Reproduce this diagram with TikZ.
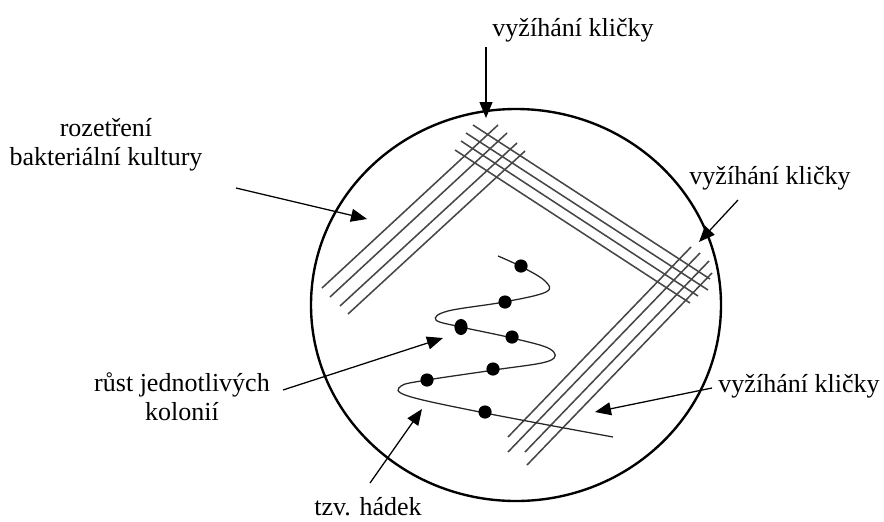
\documentclass[tikz,border=0pt]{standalone}
\usepackage{fontspec}
\setmainfont{Liberation Serif}
\usetikzlibrary{arrows.meta}

\begin{document}
\begin{tikzpicture}[x=0.5mm,y=-0.5mm,
  every node/.style={font=\fontsize{37}{41}\selectfont, align=center, inner sep=0pt},
  pointer/.style={line width=1.8pt, -{Triangle[length=8mm,width=6.5mm]}},
  hatch/.style={line width=2.2pt, draw=black!72},
  streak/.style={line width=1.8pt, draw=black!85}]
\useasboundingbox (0,0) rectangle (884,521);

% the dish
\draw[line width=3.4pt] (516,305) ellipse [x radius=102.5mm, y radius=98mm];

% first spread, upper left
\draw[hatch] (322,288) -- (498,125);
\draw[hatch] (330,297) -- (507,133);
\draw[hatch] (340,306) -- (517,143);
\draw[hatch] (348,314) -- (525,151);

% second spread, upper right
\draw[hatch] (473,125) -- (710,279);
\draw[hatch] (466,133) -- (708,290);
\draw[hatch] (461,141) -- (698,296);
\draw[hatch] (455,150) -- (690,303);

% third spread, lower right
\draw[hatch] (508,437) -- (691,247);
\draw[hatch] (508,452) -- (700,253);
\draw[hatch] (525,452) -- (709,261);
\draw[hatch] (527,465) -- (712,273);

% the streak
\draw[streak] plot[smooth, tension=0.6] coordinates {(498,256) (522,267) (545,281) (546,292) (504,302) (448,311) (436,320) (461,327) (512,338) (550,349) (549,361) (494,370) (427,380) (401,386) (408,396) (485,413) (613,437)};

% colonies
\fill (521,266) circle [radius=3.3mm];
\fill (505,302) circle [radius=3.3mm];
\fill (461,327) ellipse [x radius=3.3mm, y radius=4mm];
\fill (512,337) circle [radius=3.3mm];
\fill (493,369) circle [radius=3.3mm];
\fill (427,380) circle [radius=3.3mm];
\fill (485,412) circle [radius=3.3mm];

% labels
\node (lbltop) at (573,30) {vyžíhání kličky};
\node (lblspread) at (106,145) {rozetření\\bakteriální kultury};
\node (lblright) at (770,178) {vyžíhání kličky};
\node (lbllow) at (799,386) {vyžíhání kličky};
\node (lblcol) at (182,397) {růst jednotlivých\\kolonií};
\node[anchor=base] (lblstreak) at (368,515) {tzv. hádek};

% arrow ends
\coordinate (topA) at (486,47);    \coordinate (topB) at (486,118);
\coordinate (sprA) at (236,188);   \coordinate (sprB) at (367,219);
\coordinate (rgtA) at (738,200);   \coordinate (rgtB) at (699,242);
\coordinate (lowA) at (712,388);   \coordinate (lowB) at (595,412);
\coordinate (colA) at (283,390);   \coordinate (colB) at (443,338);
\coordinate (strA) at (370,483);   \coordinate (strB) at (422,409);

\draw[pointer] (topA) -- (topB);
\draw[pointer] (sprA) -- (sprB);
\draw[pointer] (rgtA) -- (rgtB);
\draw[pointer] (lowA) -- (lowB);
\draw[pointer] (colA) -- (colB);
\draw[pointer] (strA) -- (strB);
\end{tikzpicture}
\end{document}
